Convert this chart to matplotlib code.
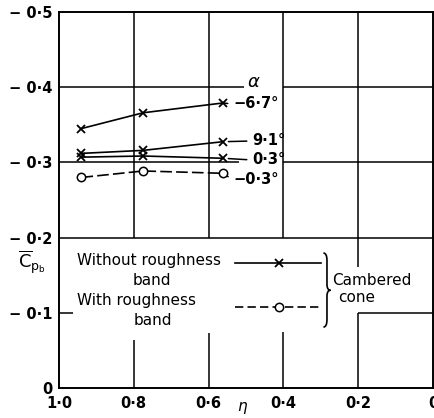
import matplotlib
matplotlib.use("Agg")
import matplotlib.pyplot as plt
from matplotlib.path import Path
from matplotlib.patches import PathPatch

# ---------------- data ----------------
eta = [0.94, 0.775, 0.562]
cp_67 = [-0.345, -0.366, -0.379]
cp_91 = [-0.312, -0.316, -0.3275]
cp_03 = [-0.307, -0.3085, -0.3055]
cp_m03_band = [-0.280, -0.2886, -0.2855]

series_labels = ["\u22126\u00b77\u00b0", "9\u00b71\u00b0", "0\u00b73\u00b0", "\u22120\u00b73\u00b0"]
xticks = [1.0, 0.8, 0.6, 0.4, 0.2, 0.0]
xticklabels = ["1\u00b70", "0\u00b78", "0\u00b76", "0\u00b74", "0\u00b72", "0"]
yticks = [0.0, -0.1, -0.2, -0.3, -0.4, -0.5]
yticklabels = ["0", "\u2212 0\u00b71", "\u2212 0\u00b72", "\u2212 0\u00b73", "\u2212 0\u00b74", "\u2212 0\u00b75"]

W, H = 434, 418
fig = plt.figure(figsize=(W / 100, H / 100), dpi=100)
ax = fig.add_axes([59 / W, 1 - 388 / H, (433 - 59) / W, (388 - 12) / H])
ax.set_xlim(1.0, 0.0)
ax.set_ylim(0.0, -0.5)

for s in ax.spines.values():
    s.set_linewidth(1.4)
    s.set_color("black")

ax.set_xticks(xticks)
ax.set_xticklabels(xticklabels, fontsize=10.5, fontweight="bold")
ax.set_yticks(yticks)
ax.set_yticklabels(yticklabels, fontsize=10.5, fontweight="bold")
ax.tick_params(axis="both", length=0)
ax.tick_params(axis="x", pad=6)
ax.tick_params(axis="y", pad=5)

# ---------------- broken grid ----------------
glw = 1.1
gk = dict(color="black", lw=glw, zorder=1)
# horizontals
ax.hlines(-0.4, 1.0, 0.505, **gk)
ax.hlines(-0.4, 0.4, 0.0, **gk)
ax.hlines(-0.3, 1.0, 0.52, **gk)
ax.hlines(-0.3, 0.4, 0.0, **gk)
ax.hlines(-0.2, 1.0, 0.0, **gk)
ax.hlines(-0.1, 1.0, 0.962, **gk)
ax.hlines(-0.1, 0.2, 0.0, **gk)
# verticals
ax.vlines(0.8, -0.5, -0.2, **gk)
ax.vlines(0.8, -0.064, 0.0, **gk)
ax.vlines(0.6, -0.5, -0.2, **gk)
ax.vlines(0.6, -0.073, 0.0, **gk)
ax.vlines(0.4, -0.5, -0.2, **gk)
ax.vlines(0.4, -0.075, 0.0, **gk)
ax.vlines(0.2, -0.5, -0.161, **gk)
ax.vlines(0.2, -0.1, 0.0, **gk)

# ---------------- data lines ----------------
lk = dict(color="black", lw=1.2, zorder=3)
ax.plot(eta, cp_67, marker="x", ms=6, mew=1.3, **lk)
ax.plot(eta, cp_91, marker="x", ms=6, mew=1.3, **lk)
ax.plot(eta, cp_03, marker="x", ms=6, mew=1.3, **lk)
ax.plot(eta, cp_m03_band, marker="o", ms=6, mew=1.1, mfc="white",
        dashes=(7, 2.5), **lk)

# series labels with leader lines
label_pos = [(0.534, -0.3777), (0.483, -0.3285), (0.483, -0.3032), (0.534, -0.2766)]
series = [cp_67, cp_91, cp_03, cp_m03_band]
for lab, pos, ser in zip(series_labels, label_pos, series):
    ax.annotate(lab, xy=(eta[-1], ser[-1]), xytext=pos, ha="left", va="center",
                fontsize=10.5, fontweight="bold",
                arrowprops=dict(arrowstyle="-", lw=1.1, shrinkA=2, shrinkB=4,
                                relpos=(0, 0.5)))
ax.text(0.480, -0.407, r"$\alpha$", fontsize=13, ha="center", va="center")

# ---------------- legend ----------------
tk = dict(fontsize=11, va="center")
ax.text(0.953, -0.1695, "Without roughness", ha="left", **tk)
ax.text(0.752, -0.1428, "band", ha="center", **tk)
ax.text(0.953, -0.1163, "With roughness", ha="left", **tk)
ax.text(0.748, -0.0896, "band", ha="center", **tk)

leg_x = [0.529, 0.411, 0.299]
ax.plot([leg_x[0], leg_x[2]], [-0.166, -0.166], color="black", lw=1.2)
ax.plot([leg_x[1]], [-0.166], marker="x", ms=6, mew=1.3, color="black")
ax.plot([leg_x[0], leg_x[2]], [-0.108, -0.108], color="black", lw=1.2, dashes=(5, 2.5))
ax.plot([leg_x[1]], [-0.108], marker="o", ms=6, mew=1.1, mfc="white", color="black")

# brace "}"
bx0, bx1 = 0.293, 0.274
xm = (bx0 + bx1) / 2
yt, yb, ym = -0.1795, -0.081, -0.130
verts = [(bx0, yt), (xm, yt), (xm, yt + 0.01),
         (xm, ym - 0.008),
         (xm, ym), (bx1, ym),
         (xm, ym), (xm, ym + 0.008),
         (xm, yb - 0.01),
         (xm, yb), (bx0, yb)]
codes = [Path.MOVETO, Path.CURVE3, Path.CURVE3,
         Path.LINETO,
         Path.CURVE3, Path.CURVE3,
         Path.CURVE3, Path.CURVE3,
         Path.LINETO,
         Path.CURVE3, Path.CURVE3]
ax.add_patch(PathPatch(Path(verts, codes), fill=False, lw=1.2, color="black"))
ax.text(0.27, -0.1436, "Cambered", ha="left", **tk)
ax.text(0.253, -0.121, "cone", ha="left", **tk)

# axis labels
fig.text(32 / W, 1 - 262 / H, r"$\overline{\mathrm{C}}_{\mathrm{p}_{\mathrm{b}}}$",
         fontsize=13, ha="center", va="center")
fig.text(243 / W, 1 - 408 / H, r"$\eta$", fontsize=11, ha="center", va="center")

fig.savefig("out.png", dpi=100)
